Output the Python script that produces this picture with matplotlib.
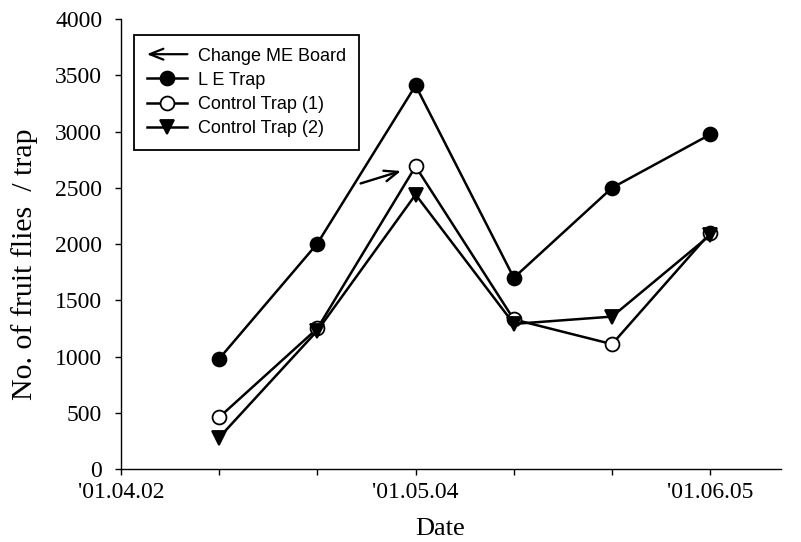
import matplotlib

matplotlib.use("Agg")
import matplotlib.pyplot as plt
from matplotlib.legend_handler import HandlerBase
from matplotlib.lines import Line2D
from matplotlib.patches import FancyArrowPatch

# sampling dates sit on every minor tick; only every third tick is labelled
tick_labels = ["'01.04.02", "", "", "'01.05.04", "", "", "'01.06.05"]
sample_idx = [1, 2, 3, 4, 5, 6]
le_trap = [980, 2005, 3410, 1700, 2500, 2975]
control_1 = [460, 1250, 2690, 1330, 1110, 2100]
control_2 = [280, 1230, 2440, 1290, 1355, 2080]
board_change_idx = 2  # ME board changed at the third sampling (Control Trap 1)

SERIF = ["Liberation Serif", "DejaVu Serif"]
SANS = ["Liberation Sans", "DejaVu Sans"]


class ArrowHandler(HandlerBase):
    def create_artists(self, legend, orig, xdescent, ydescent, width, height,
                       fontsize, trans):
        y = height / 2 - ydescent
        arr = FancyArrowPatch((width - xdescent, y), (-xdescent, y),
                              arrowstyle="->,head_length=0.7,head_width=0.28",
                              lw=1.6, color="black", mutation_scale=14,
                              shrinkA=0, shrinkB=0, transform=trans)
        return [arr]


fig = plt.figure(figsize=(8.01, 5.42), dpi=100)
ax = fig.add_axes([0.151, 0.1347, 0.824, 0.83])

style = dict(color="black", linewidth=1.8, markersize=10, markeredgewidth=1.3)
ax.plot(sample_idx, le_trap, marker="o", markerfacecolor="black", **style)
ax.plot(sample_idx, control_1, marker="o", markerfacecolor="white", **style)
ax.plot(sample_idx, control_2, marker="v", markerfacecolor="black", **style)

ax.annotate("", xy=(sample_idx[board_change_idx], control_1[board_change_idx]),
            xytext=(-55, -17), textcoords="offset pixels",
            arrowprops=dict(arrowstyle="->,head_length=0.7,head_width=0.28",
                            lw=1.7, color="black", shrinkA=0, shrinkB=11,
                            mutation_scale=14))

ax.set_xlim(0, 6.72)
ax.set_ylim(0, 4000)
ax.set_xticks(range(len(tick_labels)))
ax.set_xticklabels(tick_labels, family=SERIF, fontsize=17)
ax.set_yticks(range(0, 4001, 500))
ax.set_yticklabels([str(v) for v in range(0, 4001, 500)], family=SERIF, fontsize=17)
ax.tick_params(direction="out", length=4.5, width=1, color="black")
ax.tick_params(axis="y", pad=9)
ax.tick_params(axis="x", pad=5)

for side in ("top", "right"):
    ax.spines[side].set_visible(False)
for side in ("left", "bottom"):
    ax.spines[side].set_linewidth(1)

ax.set_xlabel("Date", family=SERIF, fontsize=19)
ax.set_ylabel("No. of fruit flies  / trap", family=SERIF, fontsize=21.5)
ax.xaxis.set_label_coords(0.483, -0.108, transform=ax.transAxes)
ax.yaxis.set_label_coords(-0.126, 0.455, transform=ax.transAxes)

handles = [
    Line2D([], [], color="black"),
    Line2D([], [], marker="o", markerfacecolor="black", **style),
    Line2D([], [], marker="o", markerfacecolor="white", **style),
    Line2D([], [], marker="v", markerfacecolor="black", **style),
]
labels = ["Change ME Board", "L E Trap", "Control Trap (1)", "Control Trap (2)"]
leg = ax.legend(handles, labels, loc="upper left", bbox_to_anchor=(0.02, 0.965),
                handler_map={handles[0]: ArrowHandler()},
                prop={"family": SANS, "size": 13}, fancybox=False,
                edgecolor="black", framealpha=1, borderaxespad=0,
                handlelength=2.25, handletextpad=0.6, labelspacing=0.4,
                borderpad=0.7)
leg.get_frame().set_linewidth(1.3)

fig.savefig("out.png", dpi=100)
